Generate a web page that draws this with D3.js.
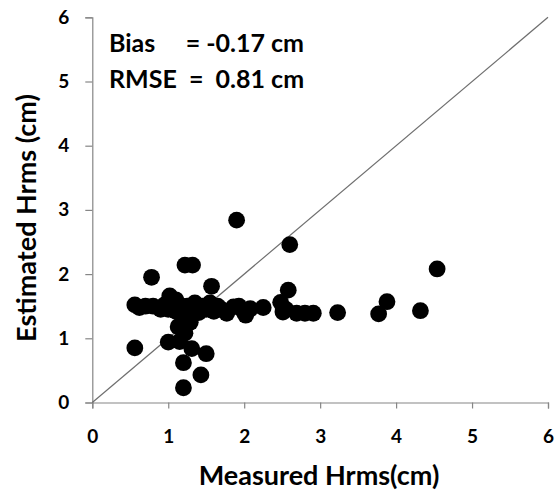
<!DOCTYPE html>
<html>
<head>
<meta charset="utf-8">
<script src="https://cdn.jsdelivr.net/npm/d3@7"></script>
<style>
  html, body { margin: 0; padding: 0; background: #fff; }
  svg text { font-family: Lato, "Open Sans", sans-serif; font-weight: bold; fill: #000; }
</style>
</head>
<body>
<svg id="chart" width="555" height="492"></svg>
<script>
// ---- data ----
const measured = [
  1.90, 1.22, 1.32, 0.78, 2.60, 1.57, 1.02, 4.54, 2.58, 3.88, 4.32, 3.77, 3.23, 2.91, 2.80, 2.69,
  2.51, 2.48, 2.55, 2.25, 2.08, 1.99, 1.93, 1.86, 1.77, 2.02,
  0.56, 1.00, 1.20, 1.31, 1.50, 1.43, 1.20, 1.13, 1.15, 1.29, 1.22,
  0.56, 0.62, 0.70, 0.80, 0.90, 0.95, 1.05, 1.10, 1.15, 1.20, 1.25, 1.30, 1.35, 1.40, 1.45, 1.50,
  1.55, 1.60, 1.65, 1.70, 1.10, 1.30, 1.00
];
const estimated = [
  2.84, 2.14, 2.14, 1.95, 2.46, 1.81, 1.66, 2.08, 1.75, 1.57, 1.43, 1.38, 1.40, 1.39, 1.39, 1.39,
  1.41, 1.56, 1.45, 1.48, 1.46, 1.42, 1.50, 1.49, 1.39, 1.36,
  0.85, 0.94, 0.62, 0.84, 0.76, 0.43, 0.23, 1.18, 0.95, 1.25, 1.08,
  1.52, 1.48, 1.50, 1.50, 1.45, 1.52, 1.50, 1.42, 1.52, 1.40, 1.50, 1.45, 1.55, 1.40, 1.50, 1.45,
  1.55, 1.42, 1.50, 1.45, 1.60, 1.35, 1.45
];
const xTicks = [0, 1, 2, 3, 4, 5, 6];
const yTicks = [0, 1, 2, 3, 4, 5, 6];
const annotations = ["Bias     = -0.17 cm", "RMSE  =  0.81 cm"];
const xTitle = "Measured Hrms(cm)";
const yTitle = "Estimated Hrms (cm)";

// ---- layout ----
const svg = d3.select("#chart");
const mLeft = 92.3, mRight = 548, mTop = 17.3, mBottom = 402.5;
const x = d3.scaleLinear().domain([0, 6]).range([mLeft, mRight]);
const y = d3.scaleLinear().domain([0, 6]).range([mBottom, mTop]);
const axisColor = "#868686";

// axes
const xAxis = svg.append("g").attr("transform", `translate(0,${mBottom})`)
  .call(d3.axisBottom(x).tickValues(xTicks).tickFormat(d3.format("d")).tickSize(6).tickPadding(21));
const yAxis = svg.append("g").attr("transform", `translate(${mLeft},0)`)
  .call(d3.axisLeft(y).tickValues(yTicks).tickFormat(d3.format("d")).tickSize(7).tickPadding(16));
[xAxis, yAxis].forEach(g => {
  g.select(".domain").attr("stroke", axisColor).attr("stroke-width", 1.2);
  g.selectAll(".tick line").attr("stroke", axisColor).attr("stroke-width", 1.2);
  g.selectAll(".tick text").style("font-size", "19px").style("font-family", "Lato, sans-serif").style("font-weight", "bold").attr("fill", "#000");
});

// 1:1 line
svg.append("line")
  .attr("x1", x(0)).attr("y1", y(0)).attr("x2", x(6)).attr("y2", y(6))
  .attr("stroke", "#6e6e6e").attr("stroke-width", 1.2);

// points
svg.append("g").selectAll("circle")
  .data(measured.map((m, i) => [m, estimated[i]]))
  .join("circle")
  .attr("cx", d => x(d[0]))
  .attr("cy", d => y(d[1]))
  .attr("r", 8.4)
  .attr("fill", "#000");

// annotations
svg.append("g").selectAll("text")
  .data(annotations)
  .join("text")
  .attr("x", 109)
  .attr("y", (d, i) => 52 + i * 35.5)
  .style("font-size", "25px")
  .style("white-space", "pre")
  .attr("xml:space", "preserve")
  .text(d => d);

// axis titles
svg.append("text")
  .attr("x", 319)
  .attr("y", 485)
  .attr("text-anchor", "middle")
  .style("font-size", "27px")
  .text(xTitle);
svg.append("text")
  .attr("transform", `translate(36,218) rotate(-90)`)
  .attr("text-anchor", "middle")
  .style("font-size", "27px")
  .text(yTitle);
</script>
</body>
</html>
